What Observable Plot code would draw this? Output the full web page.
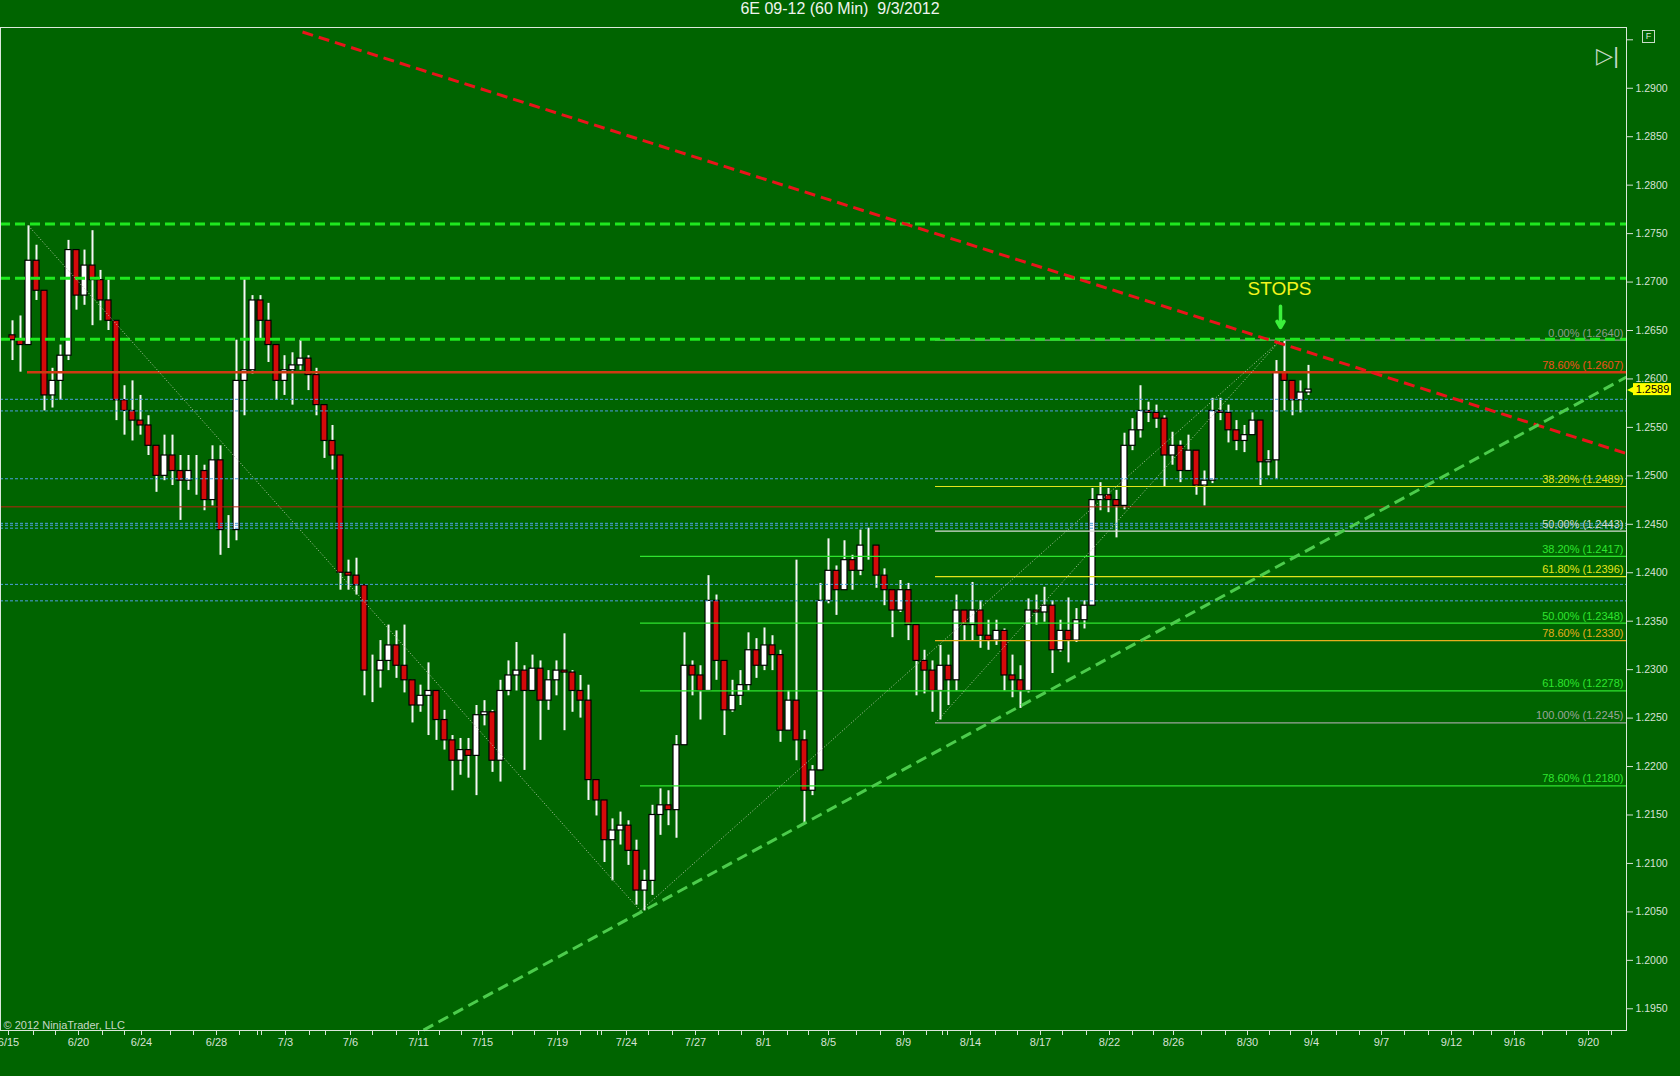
<!DOCTYPE html>
<html><head><meta charset="utf-8">
<script src="https://cdn.jsdelivr.net/npm/d3@7"></script>
<script src="https://cdn.jsdelivr.net/npm/@observablehq/plot@0.6"></script>
<style>
html,body{margin:0;padding:0;background:#006400;}
#wrap{position:relative;width:1680px;height:1076px;overflow:hidden;background:#006400;}
#title{height:26px;line-height:26px;text-align:center;color:#eef4ee;font:16px 'Liberation Sans',Arial,sans-serif;white-space:pre;}
#fbox{position:absolute;left:1642px;top:30px;width:11px;height:11px;border:1px solid #c8dcc8;color:#d8e8d8;font:9px 'Liberation Sans',Arial,sans-serif;text-align:center;line-height:11px;}
</style></head><body>
<div id="wrap"><div id="title">6E 09-12 (60 Min)  9/3/2012</div><div id="chart"></div><div id="fbox">F</div></div>
<script>
// ---- price data: aggregated candles (8 hourly bars each) ----
const candleStartBar = 8, candleBars = 8, firstOpen = 1.2645;
const highs = [
1.2660,1.2665,1.2758,1.2738,1.2691,1.2611,1.2635,1.2743,1.2733,1.2733,
1.2753,1.2712,1.2702,1.2660,1.2593,1.2598,1.2583,1.2562,1.2531,1.2542,
1.2542,1.2521,1.2521,1.2521,1.2511,1.2531,1.2531,1.2459,1.2640,1.2704,
1.2686,1.2686,1.2678,1.2635,1.2624,1.2627,1.2640,1.2624,1.2611,1.2573,
1.2552,1.2521,1.2413,1.2415,1.2387,1.2315,1.2330,1.2346,1.2340,1.2346,
1.2289,1.2284,1.2307,1.2278,1.2258,1.2232,1.2229,1.2229,1.2263,1.2268,
1.2258,1.2289,1.2309,1.2328,1.2304,1.2315,1.2309,1.2299,1.2309,1.2337,
1.2299,1.2294,1.2284,1.2186,1.2165,1.2146,1.2153,1.2144,1.2124,1.2093,
1.2160,1.2177,1.2175,1.2232,1.2338,1.2309,1.2304,1.2397,1.2377,1.2309,
1.2289,1.2299,1.2338,1.2332,1.2343,1.2335,1.2320,1.2278,1.2413,1.2237,
1.2201,1.2389,1.2435,1.2407,1.2433,1.2418,1.2444,1.2446,1.2423,1.2404,
1.2382,1.2392,1.2389,1.2346,1.2320,1.2309,1.2325,1.2315,1.2377,1.2361,
1.2390,1.2371,1.2351,1.2351,1.2342,1.2315,1.2304,1.2373,1.2377,1.2385,
1.2371,1.2351,1.2374,1.2363,1.2371,1.2487,1.2493,1.2487,1.2485,1.2544,
1.2559,1.2593,1.2576,1.2573,1.2562,1.2545,1.2536,1.2542,1.2524,1.2505,
1.2580,1.2580,1.2573,1.2557,1.2552,1.2565,1.2557,1.2526,1.2619,1.2640,
1.2598,1.2598,1.2614];
const lows = [
1.2619,1.2607,1.2635,1.2681,1.2567,1.2570,1.2578,1.2619,1.2671,1.2676,
1.2655,1.2660,1.2650,1.2557,1.2542,1.2536,1.2542,1.2521,1.2483,1.2495,
1.2490,1.2454,1.2485,1.2480,1.2464,1.2469,1.2418,1.2425,1.2433,1.2562,
1.2605,1.2640,1.2617,1.2578,1.2583,1.2573,1.2609,1.2588,1.2562,1.2518,
1.2506,1.2382,1.2382,1.2377,1.2273,1.2266,1.2281,1.2299,1.2291,1.2276,
1.2245,1.2256,1.2232,1.2227,1.2217,1.2175,1.2191,1.2188,1.2170,1.2242,
1.2194,1.2184,1.2273,1.2278,1.2196,1.2278,1.2227,1.2258,1.2273,1.2237,
1.2256,1.2250,1.2165,1.2149,1.2101,1.2082,1.2119,1.2098,1.2057,1.2051,
1.2067,1.2129,1.2139,1.2126,1.2222,1.2273,1.2248,1.2278,1.2289,1.2232,
1.2256,1.2263,1.2278,1.2291,1.2299,1.2299,1.2225,1.2237,1.2206,1.2141,
1.2170,1.2227,1.2368,1.2356,1.2382,1.2382,1.2397,1.2413,1.2384,1.2366,
1.2333,1.2359,1.2330,1.2273,1.2275,1.2256,1.2248,1.2263,1.2278,1.2330,
1.2330,1.2322,1.2320,1.2325,1.2278,1.2271,1.2260,1.2276,1.2346,1.2349,
1.2296,1.2318,1.2307,1.2328,1.2342,1.2368,1.2464,1.2462,1.2436,1.2465,
1.2526,1.2539,1.2555,1.2549,1.2488,1.2511,1.2493,1.2511,1.2480,1.2469,
1.2492,1.2557,1.2534,1.2526,1.2524,1.2542,1.2490,1.2500,1.2497,1.2567,
1.2562,1.2565,1.2583];
const closes = [
1.2640,1.2635,1.2722,1.2691,1.2583,1.2598,1.2624,1.2733,1.2686,1.2717,
1.2702,1.2681,1.2660,1.2578,1.2567,1.2557,1.2552,1.2531,1.2500,1.2521,
1.2505,1.2495,1.2505,1.2505,1.2475,1.2516,1.2444,1.2444,1.2598,1.2609,
1.2681,1.2660,1.2635,1.2598,1.2609,1.2614,1.2621,1.2604,1.2573,1.2536,
1.2521,1.2400,1.2397,1.2387,1.2299,1.2299,1.2309,1.2325,1.2304,1.2289,
1.2263,1.2273,1.2278,1.2248,1.2227,1.2206,1.2217,1.2211,1.2253,1.2256,
1.2206,1.2278,1.2294,1.2299,1.2278,1.2301,1.2268,1.2289,1.2299,1.2297,
1.2278,1.2268,1.2186,1.2165,1.2124,1.2134,1.2139,1.2113,1.2072,1.2082,
1.2150,1.2160,1.2155,1.2222,1.2304,1.2294,1.2278,1.2371,1.2309,1.2258,
1.2273,1.2284,1.2320,1.2304,1.2325,1.2315,1.2237,1.2268,1.2227,1.2175,
1.2196,1.2371,1.2402,1.2382,1.2413,1.2402,1.2428,1.2428,1.2397,1.2382,
1.2361,1.2382,1.2346,1.2309,1.2299,1.2278,1.2304,1.2289,1.2361,1.2346,
1.2361,1.2335,1.2330,1.2340,1.2294,1.2289,1.2278,1.2361,1.2359,1.2366,
1.2320,1.2340,1.2330,1.2351,1.2366,1.2475,1.2480,1.2475,1.2469,1.2531,
1.2547,1.2567,1.2565,1.2559,1.2521,1.2531,1.2505,1.2526,1.2490,1.2495,
1.2567,1.2565,1.2547,1.2536,1.2542,1.2557,1.2514,1.2516,1.2607,1.2598,
1.2578,1.2586,1.2589];

// ---- horizontal levels ----
const greenDashedLevels = [1.2760, 1.2704, 1.2641];
const blueLevels = [1.2579, 1.2567, 1.2497, 1.2451, 1.2449, 1.2446, 1.2388, 1.2371];
const redLevels = [1.2468];

// ---- Fibonacci retracement levels ----
const fibSetNames = ["R", "C", "B"];
const fibSetStartBars = [27, 640, 935];
const fibSet = ["B", "R", "B", "B", "C", "B", "C", "B", "C", "B", "C"];
const fibPct = ["0.00%", "78.60%", "38.20%", "50.00%", "38.20%", "61.80%", "50.00%", "78.60%", "61.80%", "100.00%", "78.60%"];
const fibPrice = [1.2640, 1.2607, 1.2489, 1.2443, 1.2417, 1.2396, 1.2348, 1.2330, 1.2278, 1.2245, 1.2180];

// ---- swing pivots (fib tool anchors) ----
const pivotBars = [28, 640, 935, 1280];
const pivotPrices = [1.2758, 1.2051, 1.2245, 1.2640];
const pivotLinks = [[0, 1], [1, 3], [2, 3]];

// ---- trend lines ----
const redTrendBars = [302, 1626], redTrendPrices = [1.2958, 1.2523];
const greenTrendBars = [423, 1626], greenTrendPrices = [1.1928, 1.2602];

// ---- annotation ----
const stopsText = "STOPS", stopsBar = 1279, stopsPrice = 1.2693;
const stopsArrowBar = 1280, stopsArrowFrom = 1.2675, stopsArrowTo = 1.2653;
const copyright = "© 2012 NinjaTrader, LLC";

// ---- axes ----
const xEnd = 1626;
const yTicks = [1.1950,1.2000,1.2050,1.2100,1.2150,1.2200,1.2250,1.2300,1.2350,1.2400,1.2450,1.2500,1.2550,1.2600,1.2650,1.2700,1.2750,1.2800,1.2850,1.2900,1.2950];
const yTickLabels = ["1.1950","1.2000","1.2050","1.2100","1.2150","1.2200","1.2250","1.2300","1.2350","1.2400","1.2450","1.2500","1.2550","1.2600","1.2650","1.2700","1.2750","1.2800","1.2850","1.2900",""];
const dateTickBars = [8, 78, 141, 216, 285, 350, 418, 482, 557, 626, 695, 763, 828, 903, 970, 1040, 1109, 1173, 1247, 1311, 1381, 1451, 1514, 1588];
const dateLabels = ["6/15","6/20","6/24","6/28","7/3","7/6","7/11","7/15","7/19","7/24","7/27","8/1","8/5","8/9","8/14","8/17","8/22","8/26","8/30","9/4","9/7","9/12","9/16","9/20"];
const dayTickBars = [33,55,102,124,170,193,239,257,261,309,325,372,396,439,461,512,534,580,597,601,648,672,718,741,787,808,856,880,926,942,947,995,1017,1062,1086,1132,1153,1201,1225,1269,1290,1336,1359,1404,1428,1473,1491,1542,1566,1611];

// ---- build tables ----
const candles = closes.map((c, i) => ({
  bar: candleStartBar + candleBars * (i + 0.5),
  o: i ? closes[i - 1] : firstOpen, h: highs[i], l: lows[i], c
}));
const up = candles.filter(d => d.c >= d.o), down = candles.filter(d => d.c < d.o);
const startOf = s => fibSetStartBars[fibSetNames.indexOf(s)];
const fibs = fibPrice.map((p, i) => ({p, set: fibSet[i], pct: fibPct[i], x1: startOf(fibSet[i]), label: `${fibPct[i]} (${p.toFixed(4)})`}));
const fibColor = d => {
  if (d.set === "R") return "#cf3a12";
  if (d.set === "C") return "#2fe42f";
  if (d.pct === "0.00%") return "#8e9c8e";
  if (d.pct === "100.00%") return "#9aa49a";
  if (d.pct === "50.00%") return "#d4ddd4";
  if (d.pct === "78.60%") return "#e6ae1e";
  return "#e4e41c";
};
const fibLabelColor = d => d.set === "R" ? "#f0501e" : fibColor(d);
const links = pivotLinks.map(([a, b]) => ({x1: pivotBars[a], y1: pivotPrices[a], x2: pivotBars[b], y2: pivotPrices[b]}));
const redTrend = [{x1: redTrendBars[0], y1: redTrendPrices[0], x2: redTrendBars[1], y2: redTrendPrices[1]}];
const greenTrend = [{x1: greenTrendBars[0], y1: greenTrendPrices[0], x2: greenTrendBars[1], y2: greenTrendPrices[1]}];
const yLabelMap = new Map(yTicks.map((t, i) => [t, yTickLabels[i]]));
const xLabelMap = new Map(dateTickBars.map((t, i) => [t, dateLabels[i]]));
const lastClose = closes[closes.length - 1];
const axisColor = "#d6e2d6";
const half = 3;

const chart = Plot.plot({
  width: 1680, height: 1050,
  marginTop: 1, marginBottom: 46, marginLeft: 0, marginRight: 54,
  style: {background: "transparent", color: axisColor, fontFamily: "'Liberation Sans', Arial, sans-serif", fontSize: "11px", overflow: "visible"},
  x: {domain: [0, xEnd]},
  y: {domain: [1.19276, 1.29627]},
  marks: [
    // candles
    Plot.ruleX(candles, {x: "bar", y1: "l", y2: "h", stroke: "#f6f6f6", strokeWidth: 2}),
    Plot.rect(up, {x1: d => d.bar - half, x2: d => d.bar + half, y1: "o", y2: "c", fill: "#ffffff", stroke: "#000", strokeWidth: 1.2}),
    Plot.rect(down, {x1: d => d.bar - half, x2: d => d.bar + half, y1: "o", y2: "c", fill: "#d40a0a", stroke: "#000", strokeWidth: 1.2}),
    // horizontal levels
    Plot.ruleY(blueLevels, {x1: 0, x2: xEnd, stroke: "#4d9fe0", strokeWidth: 1, strokeDasharray: "3,2"}),
    Plot.ruleY(redLevels, {x1: 0, x2: xEnd, stroke: "#b8240e", strokeWidth: 1}),
    Plot.ruleY(fibs, {y: "p", x1: "x1", x2: xEnd, stroke: fibColor, strokeWidth: d => d.set === "R" ? 2.5 : 1.2}),
    Plot.ruleY(greenDashedLevels, {x1: 0, x2: xEnd, stroke: "#1fe81f", strokeWidth: 3, strokeDasharray: "10,5"}),
    // fib tool diagonals
    Plot.link(links, {x1: "x1", y1: "y1", x2: "x2", y2: "y2", stroke: "#b4c8a8", strokeWidth: 1, strokeDasharray: "1,2"}),
    // trend lines
    Plot.link(redTrend, {x1: "x1", y1: "y1", x2: "x2", y2: "y2", stroke: "#e8141a", strokeWidth: 3, strokeDasharray: "11,6"}),
    Plot.link(greenTrend, {x1: "x1", y1: "y1", x2: "x2", y2: "y2", stroke: "#4ccc4c", strokeWidth: 3, strokeDasharray: "11,6"}),
    // fib labels
    Plot.text(fibs, {x: xEnd, y: "p", text: "label", fill: fibLabelColor, textAnchor: "end", dx: -3, dy: -7, fontSize: 11}),
    // STOPS annotation
    Plot.text([stopsText], {x: stopsBar, y: stopsPrice, text: d => d, fill: "#f4f41e", fontSize: 19}),
    Plot.arrow([0], {x1: stopsArrowBar, y1: stopsArrowFrom, x2: stopsArrowBar, y2: stopsArrowTo, stroke: "#3cf03c", strokeWidth: 3.5, headLength: 9}),
    // axes
    Plot.axisX({ticks: dayTickBars, tickFormat: () => "", tickSize: 5, color: axisColor}),
    Plot.axisX({ticks: dateTickBars, tickFormat: d => xLabelMap.get(d), tickSize: 5, tickPadding: 3, fontSize: 11, color: axisColor}),
    Plot.axisY({anchor: "right", ticks: yTicks, tickFormat: d => yLabelMap.get(d), tickSize: 6, tickPadding: 3, fontSize: 10.5, color: axisColor}),
    Plot.frame({stroke: "#dce8dc", strokeWidth: 1}),
    // current price tag
    Plot.rect([lastClose], {x1: xEnd + 7, x2: xEnd + 45, y1: d => d - 0.00062, y2: d => d + 0.00062, fill: "#ffff00"}),
    Plot.text([lastClose], {x: xEnd + 5, y: d => d, text: () => "◀", fill: "#ffff00", fontSize: 12}),
    Plot.text([lastClose], {x: xEnd + 26, y: d => d, text: d => d.toFixed(4), fill: "#000", fontSize: 11}),
    // chrome
    Plot.text(["▷|"], {frameAnchor: "top-right", dx: -19, dy: 20, fill: "#c4d8c4", fontSize: 22, textAnchor: "middle"}),
    Plot.text([copyright], {frameAnchor: "bottom-left", textAnchor: "start", lineAnchor: "bottom", dx: 3, dy: -2, fill: "#c8d8c8", fontSize: 11})
  ]
});
document.getElementById("chart").appendChild(chart);
</script></body></html>
